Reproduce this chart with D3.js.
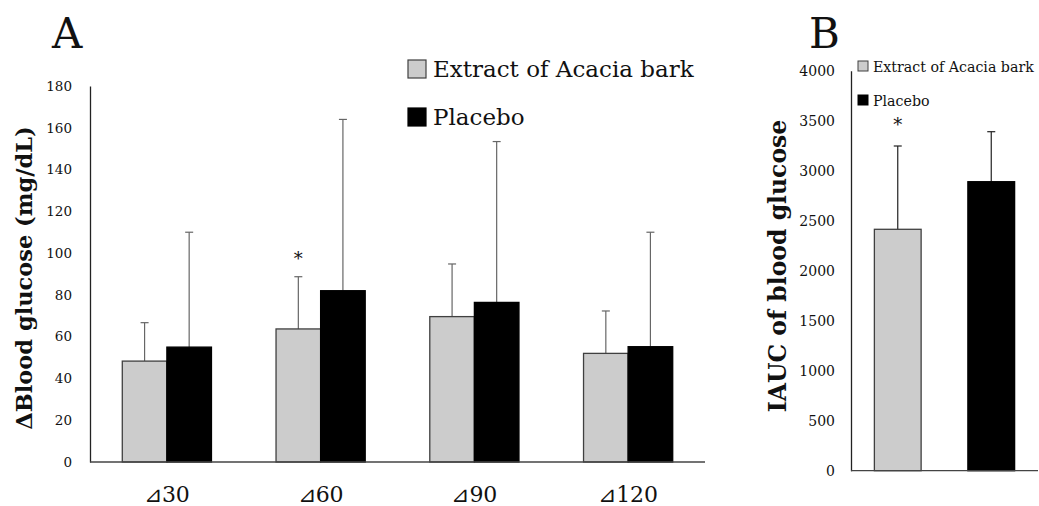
<!DOCTYPE html>
<html>
<head>
<meta charset="utf-8">
<script src="https://cdn.jsdelivr.net/npm/d3@7"></script>
<style>
  body { margin: 0; background: #fff; }
  text { font-family: "DejaVu Serif", serif; fill: #111; }
</style>
</head>
<body>
<svg id="chart" width="1039" height="506"></svg>
<script>
// panel A: change in blood glucose
const timepoints = ["⊿30", "⊿60", "⊿90", "⊿120"];
const extractMean = [48.3, 63.7, 69.6, 52];
const extractSD = [18.4, 25, 25.2, 20.3];
const placeboMean = [55, 82, 76.4, 55.2];
const placeboSD = [55, 82, 77, 54.8];
const starsA = [false, true, false, false];
const yTicksA = [0, 20, 40, 60, 80, 100, 120, 140, 160, 180];

// panel B: IAUC
const groupsB = ["Extract of Acacia bark", "Placebo"];
const iaucMean = [2414, 2890];
const iaucSD = [833, 500];
const starsB = [true, false];
const yTicksB = [0, 500, 1000, 1500, 2000, 2500, 3000, 3500, 4000];

const seriesNames = ["Extract of Acacia bark", "Placebo"];
const fills = ["#cccccc", "#000000"];
const strokes = ["#404040", "#000000"];

const svg = d3.select("#chart");

// ---------- panel A ----------
const xA = d3.scaleBand().domain(timepoints).range([90, 705]).paddingInner(0.42).paddingOuter(0.21);
const yA = d3.scaleLinear().domain([0, 180]).range([462, 86]);

const gA = svg.append("g");

gA.append("g")
    .attr("transform", "translate(90,0)")
    .call(d3.axisLeft(yA).tickValues(yTicksA).tickSize(0).tickPadding(18))
    .call(g => g.select(".domain").attr("stroke", "#222").attr("stroke-width", 1.3))
    .selectAll("text").attr("font-size", 13.5).attr("font-family", "DejaVu Serif").attr("fill", "#222");

const groupsA = gA.selectAll(".grp").data(timepoints).enter().append("g")
    .attr("transform", d => `translate(${xA(d)},0)`);

const bw = xA.bandwidth() / 2;
const rowsA = timepoints.map((t, i) => [
    {s: 0, m: extractMean[i], sd: extractSD[i]},
    {s: 1, m: placeboMean[i], sd: placeboSD[i]}
]);

groupsA.each(function(t, i) {
    const g = d3.select(this);
    rowsA[i].forEach(r => {
        const cx = r.s * bw + bw / 2;
        g.append("line")
            .attr("x1", cx).attr("x2", cx)
            .attr("y1", yA(r.m)).attr("y2", yA(r.m + r.sd))
            .attr("stroke", "#666").attr("stroke-width", 1.2);
        g.append("line")
            .attr("x1", cx - 4).attr("x2", cx + 4)
            .attr("y1", yA(r.m + r.sd)).attr("y2", yA(r.m + r.sd))
            .attr("stroke", "#666").attr("stroke-width", 1.2);
    });
    g.selectAll("rect").data(rowsA[i]).enter().append("rect")
        .attr("x", r => r.s * bw)
        .attr("y", r => yA(r.m))
        .attr("width", bw)
        .attr("height", r => yA(0) - yA(r.m))
        .attr("fill", r => fills[r.s])
        .attr("stroke", r => strokes[r.s])
        .attr("stroke-width", 1.3);
    if (starsA[i]) {
        g.append("text")
            .attr("x", bw / 2).attr("y", yA(extractMean[i] + extractSD[i]) - 12)
            .attr("text-anchor", "middle").attr("font-size", 18).text("*");
    }
});

// x axis A
gA.append("line").attr("x1", 90).attr("x2", 705).attr("y1", yA(0)).attr("y2", yA(0))
    .attr("stroke", "#444").attr("stroke-width", 1.3);
gA.selectAll(".xlab").data(timepoints).enter().append("text")
    .attr("x", d => xA(d) + xA.bandwidth() / 2)
    .attr("y", 502)
    .attr("text-anchor", "middle")
    .attr("font-size", 22)
    .attr("font-family", "DejaVu Sans")
    .attr("font-weight", 300)
    .attr("fill", "#222")
    .text(d => d);

gA.append("text")
    .attr("transform", "translate(32,278) rotate(-90)")
    .attr("text-anchor", "middle")
    .attr("font-size", 22.5).attr("font-weight", "bold")
    .text("ΔBlood glucose (mg/dL)");

gA.append("text").attr("x", 52).attr("y", 48).attr("font-size", 42).text("A");

// legend A
const legA = gA.selectAll(".legA").data(seriesNames).enter().append("g")
    .attr("transform", (d, i) => `translate(408,${60 + i * 48})`);
legA.append("rect").attr("width", 18).attr("height", 18)
    .attr("fill", (d, i) => fills[i]).attr("stroke", (d, i) => strokes[i]).attr("stroke-width", 1.2);
legA.append("text").attr("x", 25).attr("y", 17).attr("font-size", 23).text(d => d);

// ---------- panel B ----------
const xB = d3.scaleBand().domain(groupsB).range([851, 1038]).paddingInner(0.5).paddingOuter(0.25);
const yB = d3.scaleLinear().domain([0, 4000]).range([470.7, 70.7]);

const gB = svg.append("g");

gB.append("g")
    .attr("transform", "translate(851,0)")
    .call(d3.axisLeft(yB).tickValues(yTicksB).tickFormat(d3.format("d")).tickSize(0).tickPadding(16))
    .call(g => g.select(".domain").attr("stroke", "#222").attr("stroke-width", 1.3))
    .selectAll("text").attr("font-size", 14).attr("font-family", "DejaVu Serif").attr("fill", "#222");

const rowsB = groupsB.map((g, i) => ({g: g, s: i, m: iaucMean[i], sd: iaucSD[i], star: starsB[i]}));

rowsB.forEach(r => {
    const cx = xB(r.g) + xB.bandwidth() / 2;
    gB.append("line")
        .attr("x1", cx).attr("x2", cx)
        .attr("y1", yB(r.m)).attr("y2", yB(r.m + r.sd))
        .attr("stroke", "#222").attr("stroke-width", 1.2);
    gB.append("line")
        .attr("x1", cx - 4).attr("x2", cx + 4)
        .attr("y1", yB(r.m + r.sd)).attr("y2", yB(r.m + r.sd))
        .attr("stroke", "#222").attr("stroke-width", 1.2);
    if (r.star) {
        gB.append("text").attr("x", cx).attr("y", yB(r.m + r.sd) - 15)
            .attr("text-anchor", "middle").attr("font-size", 18).text("*");
    }
});

gB.selectAll(".barB").data(rowsB).enter().append("rect")
    .attr("x", r => xB(r.g))
    .attr("y", r => yB(r.m))
    .attr("width", xB.bandwidth())
    .attr("height", r => yB(0) - yB(r.m))
    .attr("fill", r => fills[r.s])
    .attr("stroke", r => strokes[r.s])
    .attr("stroke-width", 1.3);

gB.append("line").attr("x1", 851).attr("x2", 1038).attr("y1", yB(0)).attr("y2", yB(0))
    .attr("stroke", "#444").attr("stroke-width", 1.3);

gB.append("text")
    .attr("transform", "translate(786,266) rotate(-90)")
    .attr("text-anchor", "middle")
    .attr("font-size", 23.5).attr("font-weight", "bold")
    .text("IAUC of blood glucose");

gB.append("text").attr("x", 809).attr("y", 48).attr("font-size", 42).text("B");

const legB = gB.selectAll(".legB").data(seriesNames).enter().append("g")
    .attr("transform", (d, i) => `translate(858,${61 + i * 34})`);
legB.append("rect").attr("width", 10).attr("height", 10)
    .attr("fill", (d, i) => fills[i]).attr("stroke", (d, i) => strokes[i]).attr("stroke-width", 1);
legB.append("text").attr("x", 15).attr("y", 11).attr("font-size", 14.2).text(d => d);
</script>
</body>
</html>
